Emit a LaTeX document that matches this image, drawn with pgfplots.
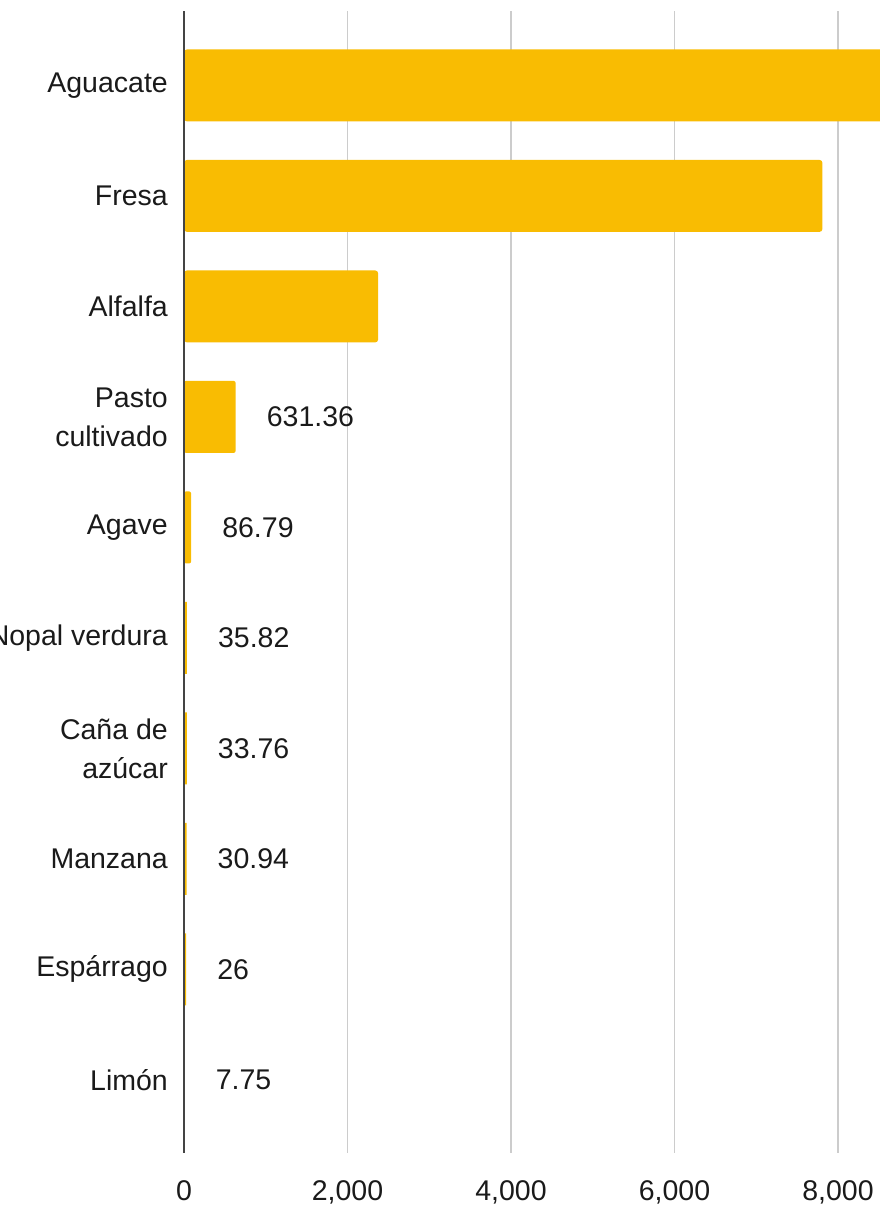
\documentclass[border=0pt]{standalone}
\usepackage{fontspec}
\setmainfont{Liberation Sans}
\usepackage{pgfplots}
\pgfplotsset{compat=1.18}
\definecolor{baryellow}{HTML}{F9BC02}
\definecolor{gridgray}{HTML}{CCCCCC}
\definecolor{axisgray}{HTML}{444444}
\definecolor{txt}{HTML}{1A1A1A}
\begin{document}
\begin{tikzpicture}
\useasboundingbox (0,0) rectangle (880pt,1207pt);
\begin{scope}
\clip (0,0) rectangle (880pt,1207pt);
\begin{axis}[
  at={(184pt,54pt)}, anchor=south west,
  scale only axis, width=696pt, height=1142pt,
  xmin=0, xmax=8514, ymin=-0.661, ymax=9.674,
  xbar, bar width=72pt, bar shift=0pt,
  axis line style={draw=none},
  major tick length=0pt,
  xtick={0,2000,4000,6000,8000},
  xticklabels={0,{2,000},{4,000},{6,000},{8,000}},
  ytick={0,1,2,3,4,5,6,7,8,9},
  yticklabels={Limón,Espárrago,Manzana,{Caña de\\azúcar},Nopal verdura,Agave,{Pasto\\cultivado},Alfalfa,Fresa,Aguacate},
  xmajorgrids, grid style={gridgray, line width=1.3pt},
  tick label style={font=\fontsize{28.5}{39}\selectfont, text=txt},
  xticklabel style={inner sep=0pt, anchor=north, yshift=-27pt},
  yticklabel style={inner sep=0pt, anchor=east, xshift=-16pt, align=right},
  every node near coord/.append style={anchor=west, inner sep=0pt, xshift=31pt, font=\fontsize{28.5}{34}\selectfont, text=txt},
  clip=true,
]
\addplot[fill=baryellow, draw=none, rounded corners=3pt] coordinates {(9000,9) (7810,8) (2375,7)};
\addplot[fill=baryellow, draw=none, rounded corners=2pt, nodes near coords, point meta=explicit symbolic]
  coordinates {(631.36,6) [631.36] (86.79,5) [86.79]};
\addplot[fill=baryellow, draw=none, nodes near coords, point meta=explicit symbolic]
  coordinates {(35.82,4) [35.82] (33.76,3) [33.76] (30.94,2) [30.94] (26,1) [26] (7.75,0) [7.75]};
\end{axis}
\draw[axisgray, line width=1.6pt] (184pt,54pt) -- (184pt,1196pt);
\end{scope}
\end{tikzpicture}
\end{document}
